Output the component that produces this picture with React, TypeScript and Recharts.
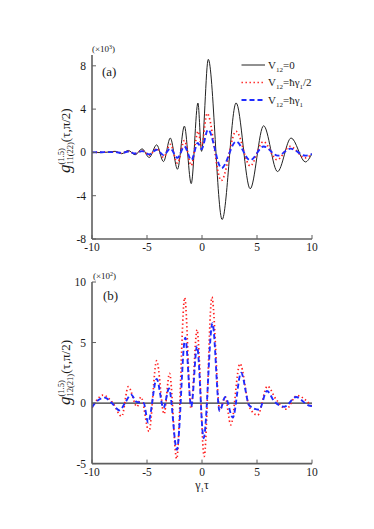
import { LineChart, Line, XAxis, YAxis } from "recharts";

const FONT = '"Liberation Serif", "Times New Roman", serif';
const INK = "#1a1a1a";
const FRAME = "#5f5f5f";

const xTicks = [-10, -5, 0, 5, 10];
const yTicksA = [-8, -4, 0, 4, 8];
const yTicksB = [-5, 0, 5, 10];

// panel (a), values in units of 10^3
const tauA0 = [-10, -9.1, -8.5, -7.9, -7.3, -6.7, -6.08, -5.45, -4.8, -4.12, -3.5, -2.88, -2.23, -1.6, -0.98, -0.37, -0.04, 0.57, 1.83, 3.1, 4.38, 5.6, 6.87, 8.1, 9.4, 10];
const gA0 = [0, -0.02, 0.04, 0.1, -0.12, 0.18, -0.22, 0.33, -0.47, 0.7, -0.85, 1.33, -1.55, 2.43, -2.88, 4.56, 0.1, 8.6, -6.2, 4.57, -3.36, 2.46, -1.77, 1.33, -0.88, -0.1];

const tauA1 = [-10, -7.9, -7.3, -6.7, -6.08, -5.45, -4.8, -4.12, -3.5, -2.88, -2.23, -1.6, -0.98, -0.35, -0.05, 0.47, 1.75, 3.1, 4.38, 5.58, 6.82, 8.02, 9.36, 10];
const gA1 = [0, 0.04, -0.06, 0.1, -0.12, 0.18, -0.26, 0.35, -0.45, 0.75, -1.0, 1.1, -1.2, 1.95, 0.6, 3.6, -2.6, 1.95, -1.25, 1.0, -0.68, 0.55, -0.5, -0.15];

const tauA2 = [-10, -7.9, -7.3, -6.7, -6.08, -5.45, -4.8, -4.12, -3.5, -2.88, -2.23, -1.6, -0.96, -0.38, -0.05, 0.55, 1.78, 3.1, 4.38, 5.6, 6.9, 8.05, 9.4, 10];
const gA2 = [0, 0.03, -0.05, 0.08, -0.1, 0.12, -0.18, 0.25, -0.25, 0.35, -0.5, 0.55, -0.7, 0.88, 0.3, 2.1, -1.45, 1.0, -0.72, 0.55, -0.3, 0.35, -0.3, -0.15];

// panel (b), values in units of 10^2
const tauB0 = [-10, 10];
const gB0 = [0, 0];

const tauB1 = [-10, -9.0, -8.1, -7.3, -6.7, -5.9, -5.55, -4.82, -4.12, -3.45, -2.95, -2.3, -1.57, -1.0, -0.45, 0.2, 0.9, 1.62, 2.1, 2.62, 3.45, 4.3, 5.06, 5.95, 6.7, 7.65, 8.62, 10];
const gB1 = [-0.4, 0.65, 0.0, -1.1, 1.35, -0.3, 0.5, -2.35, 3.5, -0.9, 2.45, -4.6, 8.7, -0.45, 6.05, -4.4, 8.75, -0.6, 0.5, -1.8, 3.25, -0.3, -1.0, 1.4, 0.35, -0.5, 0.62, -0.3];

const tauB2 = [-10, -9.85, -8.85, -8.2, -7.5, -7.0, -6.45, -5.95, -5.3, -4.9, -4.12, -3.5, -3.0, -2.28, -1.52, -0.98, -0.45, 0.15, 0.95, 1.6, 2.12, 2.8, 3.55, 4.3, 5.2, 5.9, 6.6, 7.5, 8.55, 9.7, 10];
const gB2 = [-0.35, -0.15, 0.45, 0.0, -0.6, 0.0, 0.7, 0.1, 0.0, -1.6, 2.0, -0.4, 1.2, -3.85, 5.4, -0.3, 4.7, -2.9, 6.6, -0.65, 0.5, -1.2, 2.5, -0.2, -0.55, 1.0, 0.1, -0.3, 0.5, -0.2, -0.25];

function pairs(ts: number[], gs: number[]) {
  return ts.map((t, i) => ({ t, g: gs[i] }));
}

const solid = { stroke: "#222", strokeWidth: 1 };
const dotted = { stroke: "#ff1f1f", strokeWidth: 1.7, strokeDasharray: "1.4 2.6" };
const dashed = { stroke: "#1f2bff", strokeWidth: 1.9, strokeDasharray: "5 3" };

const frameLine = { stroke: FRAME, strokeWidth: 1.6 };
const tickText = { fontSize: 11.5, fill: INK, fontFamily: FONT };

function frameAxes(yDomain: number[], yTicks: number[], xHeight: number) {
  return [
    <XAxis key="xb" xAxisId="b" type="number" dataKey="t" domain={[-10, 10]} ticks={xTicks} interval={0}
      height={xHeight} tickSize={-4} tickMargin={8} axisLine={frameLine} tickLine={{ stroke: FRAME }}
      tick={tickText} allowDataOverflow />,
    <XAxis key="xt" xAxisId="t" orientation="top" type="number" dataKey="t" domain={[-10, 10]} ticks={xTicks}
      interval={0} height={0} tickSize={-4} axisLine={frameLine} tickLine={{ stroke: FRAME }} tick={false}
      allowDataOverflow />,
    <YAxis key="yl" yAxisId="l" type="number" domain={yDomain} ticks={yTicks} interval={0} width={30}
      tickSize={-4} tickMargin={10} axisLine={frameLine} tickLine={{ stroke: FRAME }} tick={tickText}
      allowDataOverflow />,
    <YAxis key="yr" yAxisId="r" orientation="right" type="number" domain={yDomain} ticks={yTicks} interval={0}
      width={0} tickSize={-4} axisLine={frameLine} tickLine={{ stroke: FRAME }} tick={false} allowDataOverflow />,
  ];
}

function curve(key: string, ts: number[], gs: number[], style: object) {
  return (
    <Line key={key} xAxisId="b" yAxisId="l" data={pairs(ts, gs)} dataKey="g" type="monotone"
      dot={false} activeDot={false} isAnimationActive={false} {...style} />
  );
}

function YTitle({ x, y, sub }: { x: number; y: number; sub: string }) {
  return (
    <text x={x} y={y} transform={`rotate(-90 ${x} ${y})`} fill={INK}>
      <tspan fontSize={17} fontStyle="italic">g</tspan>
      <tspan fontSize={8.5} dy={-6}>(1.5)</tspan>
      <tspan fontSize={8.5} dx={-16.3} dy={9}>{sub}</tspan>
      <tspan fontSize={13} dy={-3}>(τ,π/2)</tspan>
    </text>
  );
}

function Annotations() {
  return (
    <svg width={374} height={529} style={{ position: "absolute", left: 0, top: 0, pointerEvents: "none", fontFamily: FONT }}>
      <text x={92} y={52} fontSize={9} fill={INK}>(×10<tspan fontSize={6} dy={-3}>3</tspan><tspan dy={3}>)</tspan></text>
      <text x={102} y={76} fontSize={13} fill={INK}>(a)</text>
      <text x={93} y={279} fontSize={9} fill={INK}>(×10<tspan fontSize={6} dy={-3}>2</tspan><tspan dy={3}>)</tspan></text>
      <text x={103} y={300} fontSize={13} fill={INK}>(b)</text>

      <YTitle x={70} y={173} sub="11(22)" />
      <YTitle x={70} y={405} sub="12(21)" />

      <text x={202} y={489} fontSize={12} fill={INK} textAnchor="middle">
        γ<tspan fontSize={7} dy={3}>1</tspan><tspan dy={-3}>τ</tspan>
      </text>

      <line x1={241.5} x2={265} y1={65} y2={65} {...solid} />
      <text x={268} y={69} fontSize={11} fill={INK}>
        V<tspan fontSize={7} dy={3}>12</tspan><tspan dy={-3}>=0</tspan>
      </text>
      <line x1={241.5} x2={265} y1={82.5} y2={82.5} {...dotted} />
      <text x={268} y={86} fontSize={11} fill={INK}>
        V<tspan fontSize={7} dy={3}>12</tspan><tspan dy={-3}>=ħγ</tspan><tspan fontSize={7} dy={3}>1</tspan><tspan dy={-3}>/2</tspan>
      </text>
      <line x1={241.5} x2={265} y1={100} y2={100} {...dashed} />
      <text x={268} y={103.5} fontSize={11} fill={INK}>
        V<tspan fontSize={7} dy={3}>12</tspan><tspan dy={-3}>=ħγ</tspan><tspan fontSize={7} dy={3}>1</tspan>
      </text>
    </svg>
  );
}

export default function App() {
  return (
    <div style={{ position: "absolute", left: 0, top: 0, width: 374, height: 529, background: "#fff", overflow: "hidden", fontFamily: FONT }}>
      <div style={{ position: "absolute", left: 0, top: 0 }}>
        <LineChart width={374} height={262} margin={{ top: 55, right: 62, bottom: 3, left: 62 }} style={{ fontFamily: FONT }}>
          {frameAxes([-8, 9], yTicksA, 20)}
          {curve("a0", tauA0, gA0, solid)}
          {curve("a1", tauA1, gA1, dotted)}
          {curve("a2", tauA2, gA2, dashed)}
        </LineChart>
      </div>
      <div style={{ position: "absolute", left: 0, top: 262 }}>
        <LineChart width={374} height={240} margin={{ top: 20, right: 62, bottom: 6.4, left: 62 }} style={{ fontFamily: FONT }}>
          {frameAxes([-5, 10], yTicksB, 32)}
          {curve("b0", tauB0, gB0, { stroke: "#333", strokeWidth: 1.2 })}
          {curve("b1", tauB1, gB1, dotted)}
          {curve("b2", tauB2, gB2, dashed)}
        </LineChart>
      </div>
      <Annotations />
    </div>
  );
}
